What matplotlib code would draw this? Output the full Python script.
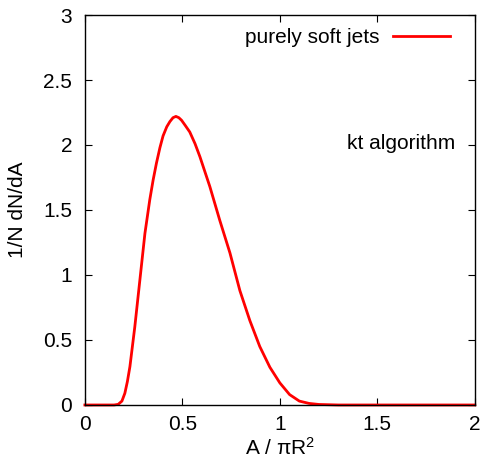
import matplotlib
matplotlib.use("Agg")
import matplotlib.pyplot as plt

# jet area distribution
area = [0.0, 0.10, 0.15, 0.171, 0.19, 0.205, 0.218, 0.231, 0.256, 0.282, 0.308, 0.333, 0.350,
        0.367, 0.385, 0.401, 0.420, 0.436, 0.452, 0.467, 0.482, 0.496, 0.515, 0.538, 0.565,
        0.590, 0.641, 0.692, 0.744, 0.795, 0.846, 0.897, 0.949, 1.00, 1.05, 1.10, 1.15,
        1.20, 1.30, 1.50, 2.0]
dnda = [0.0, 0.0, 0.0, 0.005, 0.03, 0.09, 0.18, 0.295, 0.60, 0.96, 1.32, 1.58, 1.73,
        1.86, 1.98, 2.07, 2.14, 2.18, 2.21, 2.22, 2.21, 2.19, 2.15, 2.10, 2.01,
        1.91, 1.68, 1.42, 1.17, 0.88, 0.65, 0.45, 0.29, 0.17, 0.08, 0.03, 0.012,
        0.004, 0.0, 0.0, 0.0]

xticks = [0, 0.5, 1, 1.5, 2]
yticks = [0, 0.5, 1, 1.5, 2, 2.5, 3]

plt.rcParams['font.family'] = ['Liberation Sans', 'DejaVu Sans']
plt.rcParams['font.size'] = 15

fig = plt.figure(figsize=(4.85, 4.69), dpi=100)
ax = fig.add_axes([0.175, 0.1365, 0.804, 0.8315])

ax.plot(area, dnda, color='red', lw=2.0, label='purely soft jets', clip_on=False)

ax.set_xlim(0, 2)
ax.set_ylim(0, 3)
ax.set_xticks(xticks)
ax.set_xticklabels(['0', '0.5', '1', '1.5', '2'])
ax.set_yticks(yticks)
ax.set_yticklabels(['0', '0.5', '1', '1.5', '2', '2.5', '3'])
ax.tick_params(direction='in', top=True, right=True, length=5, width=0.8)
ax.tick_params(axis='x', pad=7)
ax.tick_params(axis='y', pad=9)
for s in ax.spines.values():
    s.set_linewidth(1.0)

ax.set_xlabel(r'A / $\mathregular{\pi R^2}$', labelpad=2)
ax.set_ylabel('1/N dN/dA', labelpad=12)

ax.text(1.62, 2.015, 'kt algorithm', ha='center', va='center')

ax.legend(loc='upper right', markerfirst=False, frameon=False, handlelength=2.7,
          handletextpad=0.65, borderaxespad=0.0, bbox_to_anchor=(0.957, 0.987))

fig.savefig('out.png', dpi=100)
